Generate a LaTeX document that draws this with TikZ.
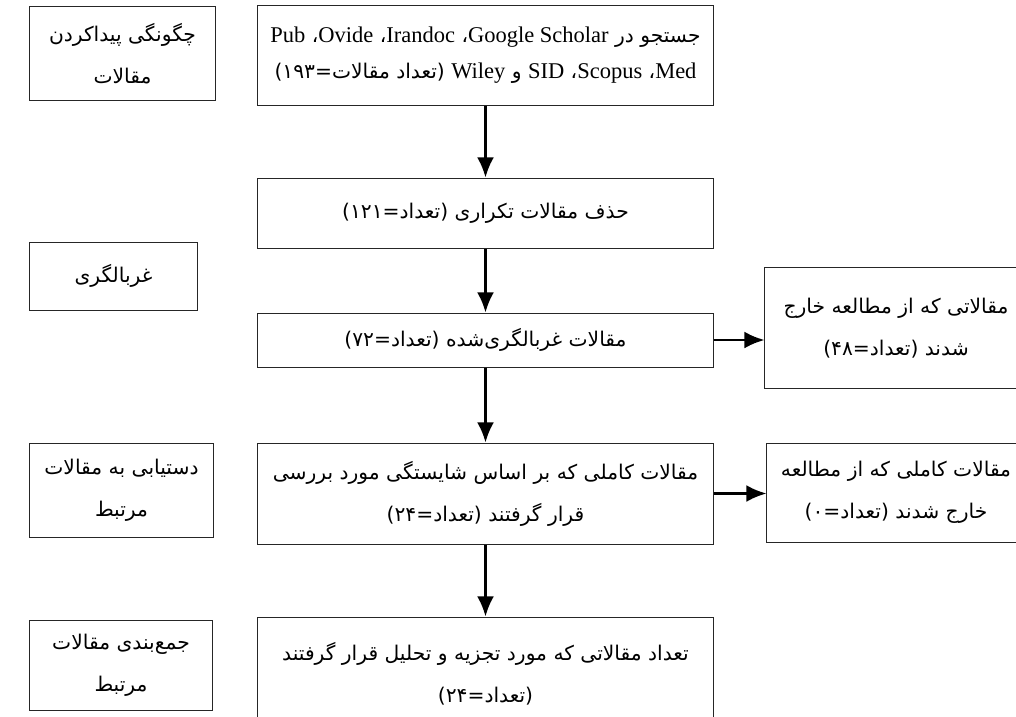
\documentclass[tikz,border=0pt]{standalone}
\usepackage{fontspec}
\setmainfont{Liberation Serif}
\newfontfamily\arabicfont[Script=Arabic,Scale=0.9]{DejaVu Sans}
\TeXXeTstate=1
\usetikzlibrary{arrows.meta}

\newcommand{\fa}[1]{\beginR #1\endR}
\newcommand{\en}[1]{\beginL{\rmfamily #1}\endL}

\tikzset{
  box/.style={draw=black!85, line width=0.7pt, align=center, inner sep=0pt,
    font={\arabicfont\fontsize{16}{30}\selectfont}},
  flow/.style={-{Latex[length=5mm,width=4.2mm]}, line width=1.8pt},
}

\begin{document}
\begin{tikzpicture}[x=0.025cm, y=-0.025cm]
\useasboundingbox (0,0) rectangle (1016,716);
\clip (0,0) rectangle (1016,716);

% main column
\node[box, minimum width=11.375cm, minimum height=2.475cm,
  font={\arabicfont\fontsize{16}{25.6}\selectfont}] (search) at (485.5,55.5)
  {\fa{جستجو در \en{Google Scholar}، \en{Irandoc}، \en{Ovide}، \en{Pub}}\\
   \fa{\en{Med}، \en{Scopus}، \en{SID} و \en{Wiley} (تعداد مقالات=۱۹۳)}};
\node[box, minimum width=11.375cm, minimum height=1.75cm] (dedup) at (485.5,213)
  {\fa{حذف مقالات تکراری (تعداد=۱۲۱)}};
\node[box, minimum width=11.375cm, minimum height=1.35cm] (screened) at (485.5,340)
  {\fa{مقالات غربالگری^^^^200cشده (تعداد=۷۲)}};
\node[box, minimum width=11.375cm, minimum height=2.525cm] (fulltext) at (485.5,493.5)
  {\fa{مقالات کاملی که بر اساس شایستگی مورد بررسی}\\
   \fa{قرار گرفتند (تعداد=۲۴)}};
\node[box, minimum width=11.375cm, minimum height=2.85cm] (final) at (485.5,674)
  {\fa{تعداد مقالاتی که مورد تجزیه و تحلیل قرار گرفتند}\\
   \fa{(تعداد=۲۴)}};

% stages on the left
\node[box, minimum width=4.625cm, minimum height=2.325cm] (how) at (122.5,53.5)
  {\fa{چگونگی پیداکردن}\\ \fa{مقالات}};
\node[box, minimum width=4.175cm, minimum height=1.7cm] (screen) at (113.5,276)
  {\fa{غربالگری}};
\node[box, minimum width=4.575cm, minimum height=2.35cm] (access) at (121.5,490)
  {\fa{دستیابی به مقالات}\\ \fa{مرتبط}};
\node[box, minimum width=4.55cm, minimum height=2.25cm] (summary) at (121,665)
  {\fa{جمع^^^^200cبندی مقالات}\\ \fa{مرتبط}};

% excluded on the right (cut by the page edge)
\node[box, minimum width=6.55cm, minimum height=3cm] (excluded) at (896,328)
  {\fa{مقالاتی که از مطالعه خارج}\\ \fa{شدند (تعداد=۴۸)}};
\node[box, minimum width=6.45cm, minimum height=2.475cm] (rejected) at (896,492.5)
  {\fa{مقالات کاملی که از مطالعه}\\ \fa{خارج شدند (تعداد=۰)}};

\draw[flow] (search) -- (dedup);
\draw[flow] (dedup) -- (screened);
\draw[flow] (screened) -- (fulltext);
\draw[flow] (fulltext) -- (final);
\draw[flow] (screened.east) -- (screened.east -| excluded.west);
\draw[flow] (fulltext.east) -- (fulltext.east -| rejected.west);

\end{tikzpicture}
\end{document}
